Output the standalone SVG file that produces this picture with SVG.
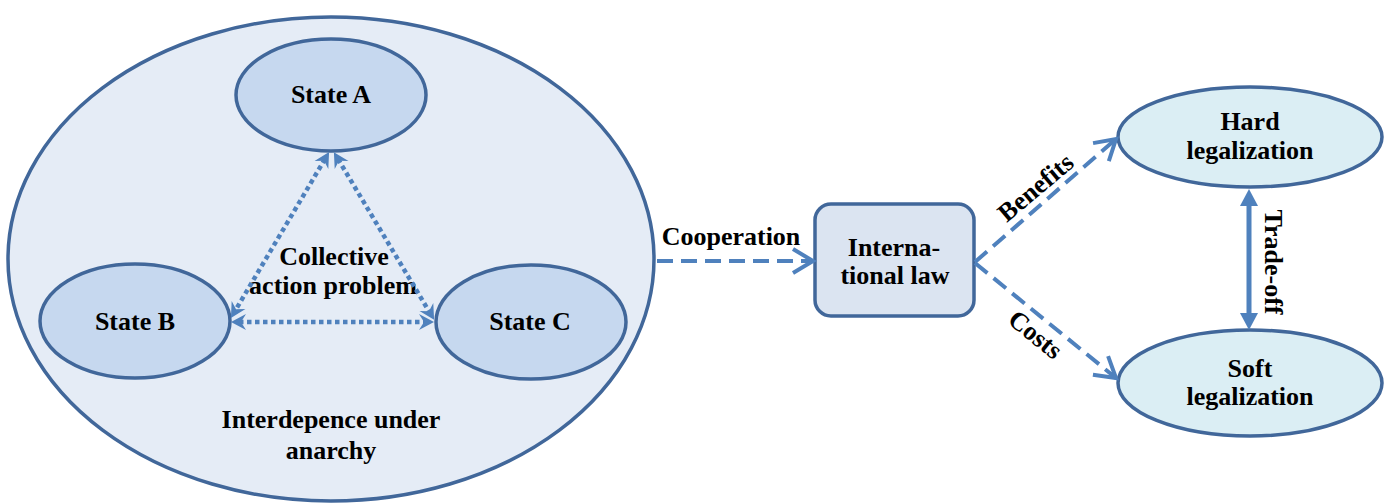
<svg xmlns="http://www.w3.org/2000/svg" width="1384" height="504" viewBox="0 0 1384 504">
<style>
.lbl{font-family:"Liberation Serif","DejaVu Serif",serif;font-weight:bold;font-size:26px;fill:#000;text-anchor:middle}
.outer{fill:#e5ecf6;stroke:#41679a;stroke-width:3.5}
.state{fill:#c6d8ef;stroke:#41679a;stroke-width:3.5}
.law{fill:#dbe4f1;stroke:#41679a;stroke-width:3.5}
.leg{fill:#dbeef4;stroke:#41679a;stroke-width:3.5}
.dot{fill:none;stroke:#4f81bd;stroke-width:4.5;stroke-dasharray:4.5 3.5}
.dash{fill:none;stroke:#4f81bd;stroke-width:4;stroke-dasharray:16 8}
.solid{fill:none;stroke:#4f81bd;stroke-width:5}
</style>
<defs>
<marker id="stealth" markerUnits="userSpaceOnUse" viewBox="-22 -10 24 20" refX="-8" refY="0" markerWidth="24" markerHeight="20" orient="auto-start-reverse">
<path d="M0,0 L-15,-8 L-10,0 L-15,8 Z" fill="#4f81bd"/>
</marker>
<marker id="chev" markerUnits="userSpaceOnUse" viewBox="-26 -16 30 32" refX="0" refY="0" markerWidth="30" markerHeight="32" orient="auto">
<path d="M-20,-12 L0,0 L-20,12" fill="none" stroke="#4f81bd" stroke-width="4"/>
</marker>
<marker id="tri" markerUnits="userSpaceOnUse" viewBox="-20 -12 22 24" refX="-6" refY="0" markerWidth="22" markerHeight="24" orient="auto-start-reverse">
<path d="M0,0 L-17,-9 L-17,9 Z" fill="#4f81bd"/>
</marker>
</defs>

<g id="interdependence">
<ellipse class="outer" cx="331" cy="259" rx="323" ry="242"/>
<text class="lbl" x="331" y="428" font-family="Liberation Serif, DejaVu Serif, serif">Interdepence under</text>
<text class="lbl" x="331" y="459" font-family="Liberation Serif, DejaVu Serif, serif">anarchy</text>
</g>

<g id="stateA">
<ellipse class="state" cx="331" cy="95" rx="95" ry="56"/>
<text class="lbl" x="331" y="103" font-family="Liberation Serif, DejaVu Serif, serif">State A</text>
</g>
<g id="stateB">
<ellipse class="state" cx="135" cy="321" rx="95" ry="57"/>
<text class="lbl" x="135" y="330" font-family="Liberation Serif, DejaVu Serif, serif">State B</text>
</g>
<g id="stateC">
<ellipse class="state" cx="531" cy="322" rx="95" ry="57"/>
<text class="lbl" x="530" y="330" font-family="Liberation Serif, DejaVu Serif, serif">State C</text>
</g>

<g id="collective">
<text class="lbl" x="334" y="265" font-family="Liberation Serif, DejaVu Serif, serif">Collective</text>
<text class="lbl" x="333" y="294" font-family="Liberation Serif, DejaVu Serif, serif">action problem</text>
</g>

<g id="law">
<rect class="law" x="815" y="204" width="159" height="112" rx="16" ry="16"/>
<text class="lbl" x="894" y="256" font-family="Liberation Serif, DejaVu Serif, serif">Interna-</text>
<text class="lbl" x="895" y="284" font-family="Liberation Serif, DejaVu Serif, serif">tional law</text>
</g>

<g id="hard">
<ellipse class="leg" cx="1250" cy="137" rx="132" ry="50"/>
<text class="lbl" x="1250" y="130" font-family="Liberation Serif, DejaVu Serif, serif">Hard</text>
<text class="lbl" x="1250" y="159" font-family="Liberation Serif, DejaVu Serif, serif">legalization</text>
</g>
<g id="soft">
<ellipse class="leg" cx="1250" cy="383" rx="132" ry="53"/>
<text class="lbl" x="1250" y="377" font-family="Liberation Serif, DejaVu Serif, serif">Soft</text>
<text class="lbl" x="1250" y="405" font-family="Liberation Serif, DejaVu Serif, serif">legalization</text>
</g>

<g id="connectors">
<line class="dot" x1="325" y1="159" x2="235" y2="311" marker-start="url(#stealth)" marker-end="url(#stealth)"/>
<line class="dot" x1="338" y1="159" x2="430" y2="313" marker-start="url(#stealth)" marker-end="url(#stealth)"/>
<line class="dot" x1="239" y1="322" x2="426" y2="322" marker-start="url(#stealth)" marker-end="url(#stealth)"/>
<line class="dash" x1="657" y1="261" x2="813" y2="261" marker-end="url(#chev)"/>
<line class="dash" x1="975" y1="262" x2="1116" y2="139" marker-end="url(#chev)"/>
<line class="dash" x1="975" y1="263" x2="1116" y2="378" marker-end="url(#chev)"/>
<line class="solid" x1="1249" y1="195" x2="1249" y2="324" marker-start="url(#tri)" marker-end="url(#tri)"/>
<text class="lbl" x="731" y="245" font-family="Liberation Serif, DejaVu Serif, serif">Cooperation</text>
<text class="lbl" x="0" y="8" transform="translate(1036,188) rotate(-40)" font-family="Liberation Serif, DejaVu Serif, serif">Benefits</text>
<text class="lbl" x="0" y="8" transform="translate(1035,335) rotate(39)" font-family="Liberation Serif, DejaVu Serif, serif">Costs</text>
<text class="lbl" x="0" y="0" transform="translate(1265,262) rotate(90)" font-family="Liberation Serif, DejaVu Serif, serif">Trade-off</text>
</g>
</svg>
